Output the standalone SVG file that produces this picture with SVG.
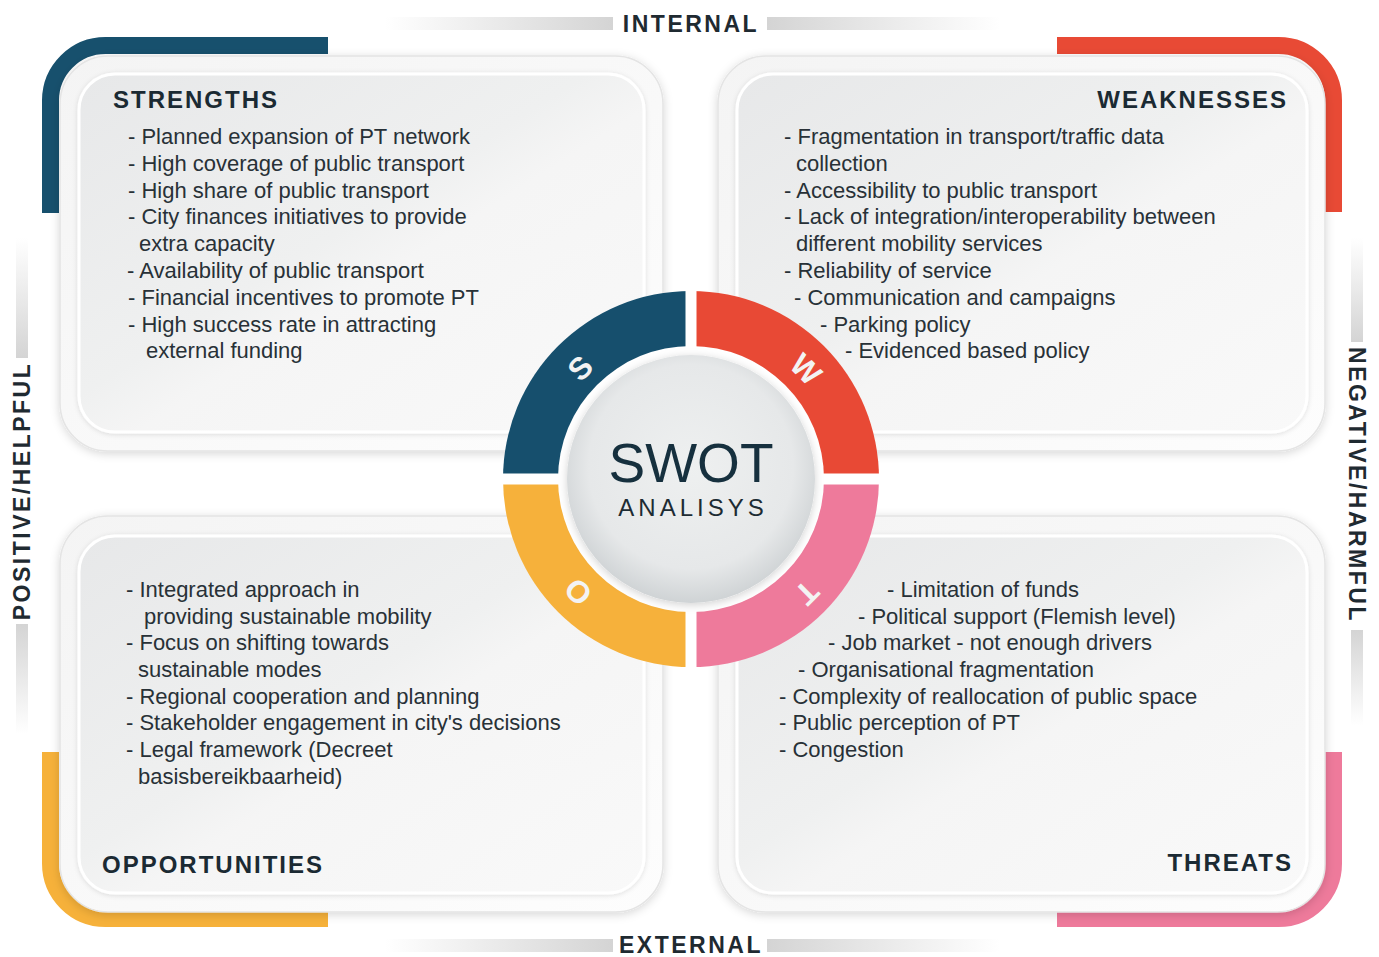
<svg xmlns="http://www.w3.org/2000/svg" width="1379" height="957" viewBox="0 0 1379 957">
  <defs>
    <style>
      .body { font-family: "Liberation Sans", Arial, sans-serif; font-size: 22px; fill: #283137; }
      .head { font-family: "Liberation Sans", Arial, sans-serif; font-size: 24px; font-weight: bold; letter-spacing: 2px; fill: #1b2a33; }
      .axis { font-family: "Liberation Sans", Arial, sans-serif; font-size: 23px; font-weight: bold; letter-spacing: 2.5px; fill: #1f2a31; }
      .letter { font-family: "Liberation Sans", Arial, sans-serif; font-size: 31px; font-weight: bold; fill: #f3f3f3; text-anchor: middle; }
      .card-outer { fill: url(#outerFill); stroke: #e4e4e4; stroke-width: 1.5; filter: url(#cardShadow); }
      .card-inner { fill: url(#innerFill); stroke: #ffffff; stroke-width: 3; filter: url(#panelShadow); }
      .bracket { fill: none; stroke-width: 17; stroke-linecap: butt; }
    </style>
    <linearGradient id="outerFill" x1="0" y1="0" x2="1" y2="1">
      <stop offset="0" stop-color="#f4f4f4"/>
      <stop offset="1" stop-color="#fdfdfd"/>
    </linearGradient>
    <linearGradient id="innerFill" x1="0" y1="0" x2="1" y2="1">
      <stop offset="0" stop-color="#e7e8e9"/>
      <stop offset="0.45" stop-color="#eff0f0"/>
      <stop offset="0.55" stop-color="#f5f5f5"/>
      <stop offset="1" stop-color="#f9f9f9"/>
    </linearGradient>
    <linearGradient id="barL" x1="0" y1="0" x2="1" y2="0">
      <stop offset="0" stop-color="#ffffff"/>
      <stop offset="1" stop-color="#d4d4d4"/>
    </linearGradient>
    <linearGradient id="barR" x1="0" y1="0" x2="1" y2="0">
      <stop offset="0" stop-color="#d4d4d4"/>
      <stop offset="1" stop-color="#ffffff"/>
    </linearGradient>
    <linearGradient id="barT" x1="0" y1="0" x2="0" y2="1">
      <stop offset="0" stop-color="#ffffff"/>
      <stop offset="1" stop-color="#d4d4d4"/>
    </linearGradient>
    <linearGradient id="barB" x1="0" y1="0" x2="0" y2="1">
      <stop offset="0" stop-color="#d4d4d4"/>
      <stop offset="1" stop-color="#ffffff"/>
    </linearGradient>
    <radialGradient id="hubFill" cx="0.5" cy="0.45" r="0.55">
      <stop offset="0" stop-color="#eef0f0"/>
      <stop offset="0.75" stop-color="#e6e8e9"/>
      <stop offset="1" stop-color="#cfd3d5"/>
    </radialGradient>
    <filter id="cardShadow" x="-10%" y="-10%" width="120%" height="120%">
      <feDropShadow dx="0" dy="2" stdDeviation="5" flood-color="#000" flood-opacity="0.16"/>
    </filter>
    <filter id="panelShadow" x="-10%" y="-10%" width="120%" height="120%">
      <feDropShadow dx="0" dy="1" stdDeviation="2.5" flood-color="#000" flood-opacity="0.12"/>
    </filter>
    <filter id="ringShadow" x="-20%" y="-20%" width="140%" height="140%">
      <feDropShadow dx="0" dy="2" stdDeviation="4" flood-color="#000" flood-opacity="0.18"/>
    </filter>
    <clipPath id="ringClip">
      <circle cx="691" cy="479" r="188"/>
    </clipPath>
  </defs>

  <rect width="1379" height="957" fill="#ffffff"/>

  <!-- axis labels with fading rules -->
  <g id="axes">
    <rect x="385" y="17" width="228" height="13" fill="url(#barL)"/>
    <rect x="767" y="17" width="233" height="13" fill="url(#barR)"/>
    <text class="axis" x="691" y="32" text-anchor="middle">INTERNAL</text>

    <rect x="385" y="939" width="228" height="13" fill="url(#barL)"/>
    <rect x="767" y="939" width="233" height="13" fill="url(#barR)"/>
    <text class="axis" x="691" y="953" text-anchor="middle">EXTERNAL</text>

    <rect x="16" y="238" width="12" height="120" fill="url(#barT)"/>
    <rect x="16" y="624" width="12" height="110" fill="url(#barB)"/>
    <text class="axis" transform="translate(30 491) rotate(-90)" text-anchor="middle">POSITIVE/HELPFUL</text>

    <rect x="1351" y="238" width="12" height="104" fill="url(#barT)"/>
    <rect x="1351" y="630" width="12" height="95" fill="url(#barB)"/>
    <text class="axis" transform="translate(1349 485) rotate(90)" text-anchor="middle">NEGATIVE/HARMFUL</text>
  </g>

  <!-- coloured corner brackets -->
  <g id="brackets">
    <path class="bracket" stroke="#17506d" d="M 50.5 213 V 100 A 55 55 0 0 1 105.5 45.5 H 328"/>
    <path class="bracket" stroke="#e84a35" d="M 1057 45.5 H 1278.5 A 55 55 0 0 1 1333.5 100.5 V 212"/>
    <path class="bracket" stroke="#f6b13a" d="M 50.5 752 V 863.5 A 55 55 0 0 0 105.5 918.5 H 328"/>
    <path class="bracket" stroke="#ee7a9b" d="M 1057 918.5 H 1278.5 A 55 55 0 0 0 1333.5 863.5 V 752"/>
  </g>

  <!-- Strengths -->
  <g id="strengths">
    <rect class="card-outer" x="60" y="56" width="603" height="395" rx="48"/>
    <rect class="card-inner" x="79" y="74" width="565" height="358" rx="36"/>
    <text class="head" x="113" y="108">STRENGTHS</text>
    <text class="body" x="128" y="144">- Planned expansion of PT network</text>
    <text class="body" x="128" y="171">- High coverage of public transport</text>
    <text class="body" x="128" y="198">- High share of public transport</text>
    <text class="body" x="128" y="224">- City finances initiatives to provide</text>
    <text class="body" x="139" y="251">extra capacity</text>
    <text class="body" x="127" y="278">- Availability of public transport</text>
    <text class="body" x="128" y="305">- Financial incentives to promote PT</text>
    <text class="body" x="128" y="332">- High success rate in attracting</text>
    <text class="body" x="146" y="358">external funding</text>
  </g>

  <!-- Weaknesses -->
  <g id="weaknesses">
    <rect class="card-outer" x="718" y="56" width="607" height="395" rx="48"/>
    <rect class="card-inner" x="737" y="74" width="570" height="358" rx="36"/>
    <text class="head" x="1288" y="108" text-anchor="end">WEAKNESSES</text>
    <text class="body" x="784" y="144">- Fragmentation in transport/traffic data</text>
    <text class="body" x="796" y="171">collection</text>
    <text class="body" x="784" y="198">- Accessibility to public transport</text>
    <text class="body" x="784" y="224">- Lack of integration/interoperability between</text>
    <text class="body" x="796" y="251">different mobility services</text>
    <text class="body" x="784" y="278">- Reliability of service</text>
    <text class="body" x="794" y="305">- Communication and campaigns</text>
    <text class="body" x="820" y="332">- Parking policy</text>
    <text class="body" x="845" y="358">- Evidenced based policy</text>
  </g>

  <!-- Opportunities -->
  <g id="opportunities">
    <rect class="card-outer" x="60" y="516" width="603" height="396" rx="48"/>
    <rect class="card-inner" x="79" y="536" width="565" height="357" rx="36"/>
    <text class="body" x="126" y="597">- Integrated approach in</text>
    <text class="body" x="144" y="624">providing sustainable mobility</text>
    <text class="body" x="126" y="650">- Focus on shifting towards</text>
    <text class="body" x="138" y="677">sustainable modes</text>
    <text class="body" x="126" y="704">- Regional cooperation and planning</text>
    <text class="body" x="126" y="730">- Stakeholder engagement in city's decisions</text>
    <text class="body" x="126" y="757">- Legal framework (Decreet</text>
    <text class="body" x="138" y="784">basisbereikbaarheid)</text>
    <text class="head" x="102" y="873">OPPORTUNITIES</text>
  </g>

  <!-- Threats -->
  <g id="threats">
    <rect class="card-outer" x="718" y="516" width="607" height="396" rx="48"/>
    <rect class="card-inner" x="737" y="536" width="570" height="357" rx="36"/>
    <text class="body" x="887" y="597">- Limitation of funds</text>
    <text class="body" x="858" y="624">- Political support (Flemish level)</text>
    <text class="body" x="828" y="650">- Job market - not enough drivers</text>
    <text class="body" x="798" y="677">- Organisational fragmentation</text>
    <text class="body" x="779" y="704">- Complexity of reallocation of public space</text>
    <text class="body" x="779" y="730">- Public perception of PT</text>
    <text class="body" x="779" y="757">- Congestion</text>
    <text class="head" x="1293" y="871" text-anchor="end">THREATS</text>
  </g>

  <!-- central SWOT wheel -->
  <g id="swot-wheel">
    <g clip-path="url(#ringClip)" filter="url(#ringShadow)">
      <rect x="500" y="288" width="191" height="191" fill="#17506d"/>
      <rect x="691" y="288" width="191" height="191" fill="#e84a35"/>
      <rect x="500" y="479" width="191" height="191" fill="#f6b13a"/>
      <rect x="691" y="479" width="191" height="191" fill="#ee7a9b"/>
      <rect x="685.5" y="288" width="11" height="382" fill="#ffffff"/>
      <rect x="500" y="473.5" width="382" height="11" fill="#ffffff"/>
    </g>
    <circle cx="691" cy="479" r="133" fill="#ffffff"/>
    <circle cx="691" cy="479" r="124" fill="url(#hubFill)" filter="url(#ringShadow)"/>
    <text class="letter" transform="translate(580 368) rotate(-45)" y="11">S</text>
    <text class="letter" transform="translate(806 369) rotate(45)" y="11">W</text>
    <text class="letter" transform="translate(578 592) rotate(-135)" y="11">O</text>
    <text class="letter" transform="translate(807 593) rotate(135)" y="11">T</text>
    <text x="691" y="482" text-anchor="middle" font-family="Liberation Sans, Arial, sans-serif" font-size="55" fill="#16303e">SWOT</text>
    <text x="693" y="516" text-anchor="middle" font-family="Liberation Sans, Arial, sans-serif" font-size="24" letter-spacing="4" fill="#1d2b33">ANALISYS</text>
  </g>
</svg>
